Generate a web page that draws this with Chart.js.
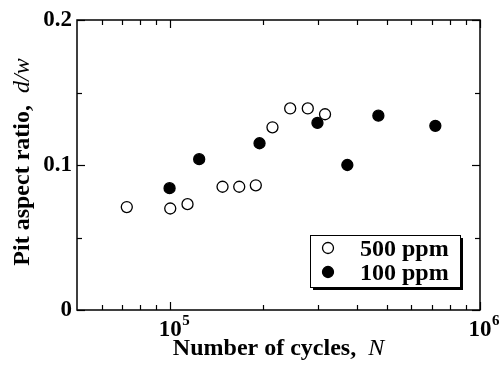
<!DOCTYPE html>
<html>
<head>
<meta charset="utf-8">
<script src="https://cdn.jsdelivr.net/npm/chart.js@4"></script>
<style>
  html, body { margin: 0; padding: 0; background: #fff; }
  #wrap { width: 501px; height: 367px; }
</style>
</head>
<body>
<div id="wrap"><canvas id="chart"></canvas></div>
<script>
// Datos
const cycles500 = [72400, 100000, 113700, 147500, 167000, 188900, 213800, 243900, 278000, 316000];
const ratio500 = [0.071, 0.070, 0.073, 0.085, 0.085, 0.086, 0.126, 0.139, 0.139, 0.135];
const cycles100 = [99500, 124000, 194200, 298700, 373000, 469800, 717500];
const ratio100 = [0.084, 0.104, 0.115, 0.129, 0.100, 0.134, 0.127];
const seriesLabels = ["500 ppm", "100 ppm"];
const yTicks = [0, 0.1, 0.2];
const yMinorTicks = [0.05, 0.15];
const xMajorTicks = [1e5, 1e6];
const xMinorTicks = [6e4, 7e4, 8e4, 9e4, 2e5, 3e5, 4e5, 5e5, 6e5, 7e5, 8e5, 9e5];

const FONT = "'Liberation Serif', 'Times New Roman', serif";

function toPoints(xs, ys) {
  return xs.map((x, i) => ({ x: x, y: ys[i] }));
}

// Marco, marcas hacia dentro, etiquetas 10^n, títulos y leyenda
const framePlugin = {
  id: "frame",
  afterDraw(chart) {
    const ctx = chart.ctx;
    const a = chart.chartArea;
    const xs = chart.scales.x;
    const ys = chart.scales.y;
    ctx.save();
    ctx.strokeStyle = "#000";
    ctx.lineWidth = 1.5;
    ctx.strokeRect(a.left, a.top, a.right - a.left, a.bottom - a.top);

    ctx.lineWidth = 1.2;
    const tick = (x1, y1, x2, y2) => {
      ctx.beginPath();
      ctx.moveTo(x1, y1);
      ctx.lineTo(x2, y2);
      ctx.stroke();
    };
    xMajorTicks.concat(xMinorTicks).forEach((v) => {
      const len = xMajorTicks.includes(v) ? 8 : 5;
      const px = Math.round(xs.getPixelForValue(v)) + 0.5;
      tick(px, a.bottom, px, a.bottom - len);
      tick(px, a.top, px, a.top + len);
    });
    yTicks.concat(yMinorTicks).forEach((v) => {
      const len = yTicks.includes(v) ? 8 : 5;
      const py = Math.round(ys.getPixelForValue(v)) + 0.5;
      tick(a.left, py, a.left + len, py);
      tick(a.right, py, a.right - len, py);
    });

    // etiquetas del eje x: 10^5, 10^6
    ctx.fillStyle = "#000";
    ctx.textBaseline = "alphabetic";
    xMajorTicks.forEach((v) => {
      const px = xs.getPixelForValue(v);
      const exp = String(Math.round(Math.log10(v)));
      ctx.font = "bold 23px " + FONT;
      const w = ctx.measureText("10").width;
      ctx.textAlign = "left";
      ctx.fillText("10", px - w / 2, a.bottom + 26);
      ctx.font = "bold 15px " + FONT;
      ctx.fillText(exp, px + w / 2 + 0.5, a.bottom + 15);
    });

    // título eje x
    ctx.font = "bold 24px " + FONT;
    const t1 = "Number of cycles,  ";
    const w1 = ctx.measureText(t1).width;
    ctx.font = "italic 24px " + FONT;
    const w2 = ctx.measureText("N").width;
    let sx = (a.left + a.right) / 2 - (w1 + w2) / 2;
    ctx.font = "bold 24px " + FONT;
    ctx.fillText(t1, sx, 355);
    ctx.font = "italic 24px " + FONT;
    ctx.fillText("N", sx + w1, 355);

    // título eje y
    ctx.save();
    ctx.translate(29, (a.top + a.bottom) / 2 - 3);
    ctx.rotate(-Math.PI / 2);
    ctx.font = "bold 24px " + FONT;
    const u1 = "Pit aspect ratio,  ";
    const uw1 = ctx.measureText(u1).width;
    ctx.font = "italic 24px " + FONT;
    const uw2 = ctx.measureText("d/w").width;
    const ux = -(uw1 + uw2) / 2;
    ctx.font = "bold 24px " + FONT;
    ctx.fillText(u1, ux, 0);
    ctx.font = "italic 24px " + FONT;
    ctx.fillText("d/w", ux + uw1, 0);
    ctx.restore();

    // leyenda con sombra
    const bx = 310, by = 235, bw = 150, bh = 52;
    ctx.fillStyle = "#000";
    ctx.fillRect(bx + 3, by + 3, bw, bh);
    ctx.fillStyle = "#fff";
    ctx.fillRect(bx, by, bw, bh);
    ctx.lineWidth = 1;
    ctx.strokeStyle = "#000";
    ctx.strokeRect(bx + 0.5, by + 0.5, bw, bh);
    chart.data.datasets.forEach((ds, i) => {
      const cy = by + 13 + i * 24;
      ctx.beginPath();
      ctx.arc(bx + 18, cy, ds.pointRadius, 0, Math.PI * 2);
      ctx.fillStyle = ds.backgroundColor;
      ctx.fill();
      ctx.lineWidth = ds.borderWidth;
      ctx.strokeStyle = ds.borderColor;
      ctx.stroke();
      ctx.fillStyle = "#000";
      ctx.font = "bold 24px " + FONT;
      ctx.textAlign = "left";
      ctx.textBaseline = "alphabetic";
      ctx.fillText(ds.label, bx + 50, cy + 8);
    });
    ctx.restore();
  },
};

new Chart(document.getElementById("chart"), {
  type: "scatter",
  data: {
    datasets: [
      {
        label: seriesLabels[0],
        data: toPoints(cycles500, ratio500),
        pointRadius: 5.5,
        pointHoverRadius: 5.5,
        backgroundColor: "#fff",
        borderColor: "#000",
        borderWidth: 1.3,
      },
      {
        label: seriesLabels[1],
        data: toPoints(cycles100, ratio100),
        pointRadius: 5.5,
        pointHoverRadius: 5.5,
        backgroundColor: "#000",
        borderColor: "#000",
        borderWidth: 1.3,
      },
    ],
  },
  options: {
    responsive: true,
    maintainAspectRatio: false,
    animation: false,
    layout: { padding: { top: 20, right: 21, left: 0, bottom: 0 } },
    plugins: {
      legend: { display: false },
      tooltip: { enabled: false },
    },
    scales: {
      x: {
        type: "logarithmic",
        min: 5e4,
        max: 1e6,
        grid: { display: false, drawTicks: false },
        border: { display: false },
        ticks: { display: false },
        afterFit: (s) => { s.height = 57; },
      },
      y: {
        min: 0,
        max: 0.2,
        afterBuildTicks: (s) => { s.ticks = yTicks.map((v) => ({ value: v })); },
        grid: { display: false, drawTicks: false },
        border: { display: false },
        ticks: {
          color: "#000",
          padding: 5,
          font: { family: FONT, size: 23, weight: "bold" },
          callback: (v) => (v === 0 ? "0" : String(v)),
        },
        afterFit: (s) => { s.width = 77; },
      },
    },
  },
  plugins: [framePlugin],
});
</script>
</body>
</html>
